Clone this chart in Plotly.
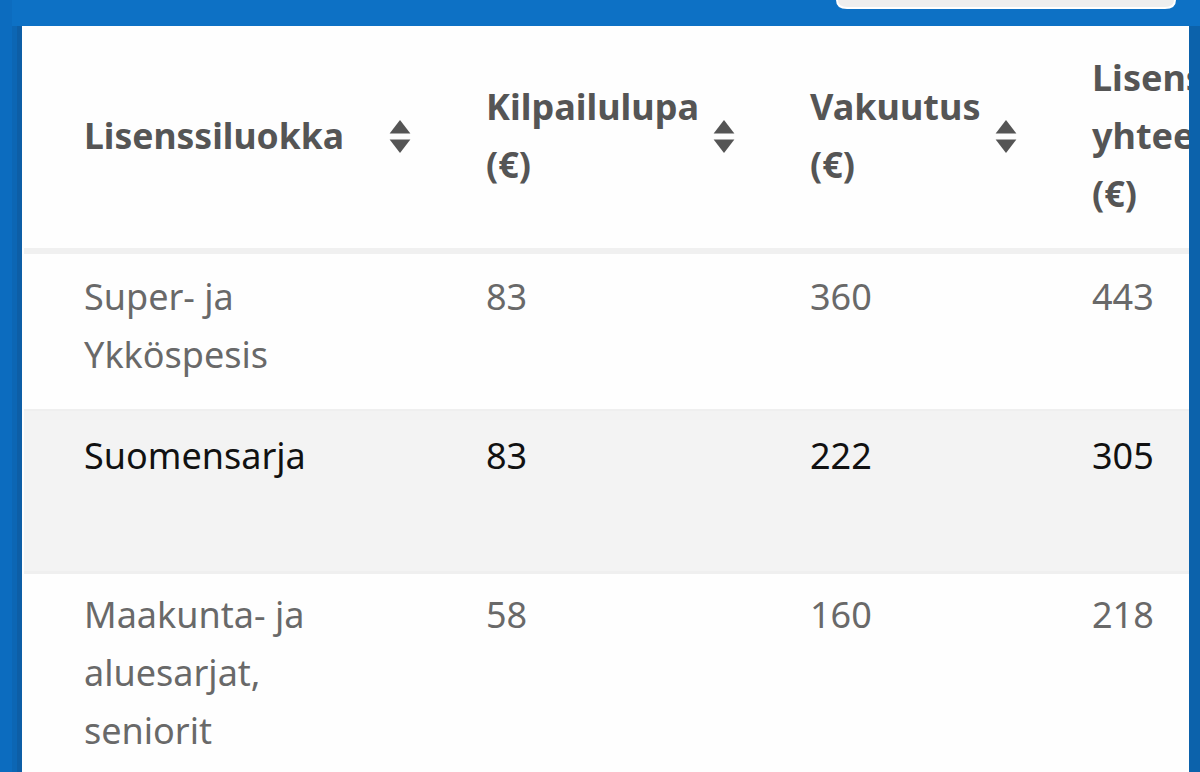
import plotly.graph_objects as go

# table content
headers = [["Lisenssiluokka"], ["Kilpailulupa", "(€)"], ["Vakuutus", "(€)"], ["Lisenssi", "yhteensä", "(€)"]]
categories = [["Super- ja", "Ykköspesis"], ["Suomensarja"], ["Maakunta- ja", "aluesarjat,", "seniorit"]]
kilpailulupa = [83, 83, 58]
vakuutus = [360, 222, 160]
yhteensa = [443, 305, 218]

# layout in screenshot pixels
COL_X = [84, 486, 810, 1092]
ROW_Y = [301, 460, 619]
LINE_H = 58
HEAD_Y = 140
ARROW_X = [400, 724, 1006]
BLUE, BLUE_DARK = "#0D71C5", "#0C62AB"
HEAD_C, BODY_C, HI_C = "#555555", "#696969", "#111111"
FONT = "Noto Sans"
SIZE = 36


def rect(x0, y0, x1, y1, color, layer="below"):
    return dict(type="rect", x0=x0, y0=y0, x1=x1, y1=y1, fillcolor=color,
                line_width=0, layer=layer)


def text_trace(xs, ys, txt, color, bold=False, size=SIZE):
    return go.Scatter(x=xs, y=ys, text=txt, mode="text", textposition="middle right",
                      textfont=dict(family=FONT, size=size, color=color,
                                    weight=700 if bold else 400),
                      hoverinfo="skip", showlegend=False)


fig = go.Figure()

# header cells, centred on their own block of lines
for c, (x, lines) in enumerate(zip(COL_X, headers)):
    top = HEAD_Y - (len(lines) - 1) * LINE_H / 2
    if len(lines) == 2:
        top = 111
    fig.add_trace(text_trace([x] * len(lines), [top + i * LINE_H for i in range(len(lines))],
                             lines, HEAD_C, bold=True, size=35.5 if c == 0 else SIZE))

# body rows
for r, y in enumerate(ROW_Y):
    color = HI_C if r == 1 else BODY_C
    lines = categories[r]
    fig.add_trace(text_trace([COL_X[0]] * len(lines), [y + i * LINE_H for i in range(len(lines))],
                             lines, color))
    vals = [kilpailulupa[r], vakuutus[r], yhteensa[r]]
    fig.add_trace(text_trace(COL_X[1:], [y] * 3, [str(v) for v in vals], color))

# sort arrows
fig.add_trace(go.Scatter(x=ARROW_X, y=[129] * 3, mode="markers", hoverinfo="skip", showlegend=False,
                         marker=dict(symbol="triangle-up", size=18, color=HEAD_C, line_width=0)))
fig.add_trace(go.Scatter(x=ARROW_X, y=[144] * 3, mode="markers", hoverinfo="skip", showlegend=False,
                         marker=dict(symbol="triangle-down", size=18, color=HEAD_C, line_width=0)))

shapes = [
    rect(22, 26, 1189, 772, "#FEFEFE"),
    rect(24, 248, 1189, 254, "#F0F0F0"),
    rect(24, 410, 1189, 572, "#F3F3F3"),
    rect(24, 409, 1189, 411, "#EFEFEF"),
    rect(24, 571, 1189, 574, "#EFEFEF"),
    # blue frame goes over the table so the last column is cut off
    rect(0, 0, 1200, 26, BLUE, "above"),
    rect(0, 0, 12, 772, "#0C6CBF", "above"),
    rect(12, 26, 17, 772, "#0C66B4", "above"),
    rect(17, 26, 22, 772, "#0D5EA6", "above"),
    rect(1189, 26, 1200, 772, BLUE_DARK, "above"),
    dict(type="path", layer="above", fillcolor="#EEEEEE",
         line=dict(color="#FFFFFF", width=2),
         path="M 837 -5 L 837 0 Q 837 8 847 8 L 1165 8 Q 1175 8 1175 0 L 1175 -5 Z"),
]

fig.update_layout(width=1200, height=772, margin=dict(l=0, r=0, t=0, b=0),
                  paper_bgcolor="white", plot_bgcolor="white", shapes=shapes,
                  xaxis=dict(range=[0, 1200], visible=False, fixedrange=True),
                  yaxis=dict(range=[772, 0], visible=False, fixedrange=True))
fig.write_html("out.html", post_script="document.body.style.margin='0';",
               config=dict(displayModeBar=False))
